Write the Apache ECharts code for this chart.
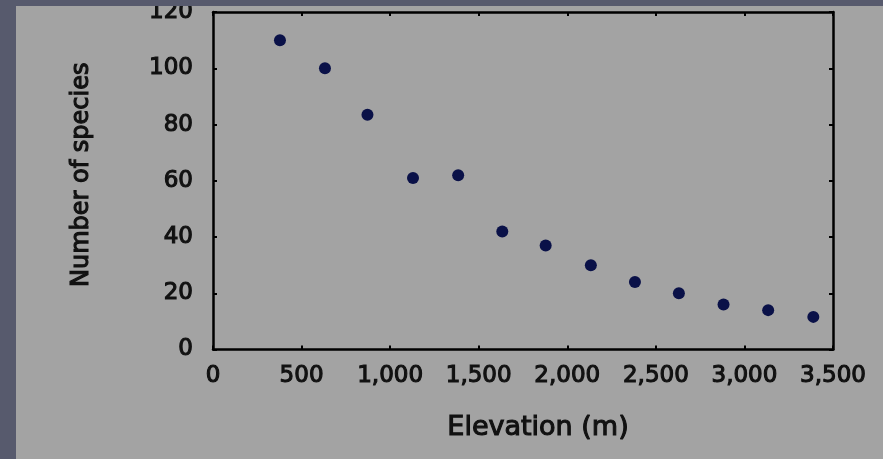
<!DOCTYPE html>
<html>
<head>
<meta charset="utf-8">
<script src="https://cdn.jsdelivr.net/npm/echarts@6/dist/echarts.min.js"></script>
<style>
html,body{margin:0;padding:0;background:#575a6d;}
#chart{width:883px;height:459px;}
</style>
</head>
<body>
<div id="chart"></div>
<script>
// Data
const elevation = [378, 632, 872, 1129, 1384, 1633, 1878, 2133, 2382, 2630, 2882, 3134, 3389];
const species   = [110, 100, 83.5, 61, 62, 42, 37, 30, 24, 20, 16, 14, 11.6];
const xTicks = [0, 500, 1000, 1500, 2000, 2500, 3000, 3500];
const yTicks = [0, 20, 40, 60, 80, 100, 120];
const xTitle = 'Elevation (m)';
const yTitle = 'Number of species';

const FONT = 'DejaVu Sans';
const TXT = '#111111';
const thick = { textBorderColor: TXT, textBorderWidth: 1.1 };

const chart = echarts.init(document.getElementById('chart'));
const points = elevation.map((e, i) => [e, species[i]]);

function baseAxis() {
  return {
    axisLine: { show: true, onZero: false, lineStyle: { color: '#000', width: 2.5 } },
    axisTick: { show: true, inside: true, length: 4, lineStyle: { color: '#000', width: 2 } },
    splitLine: { show: false }
  };
}

chart.setOption({
  backgroundColor: '#575a6d',
  animation: false,
  graphic: [
    { type: 'rect', z: -100, shape: { x: 16, y: 6, width: 900, height: 500 }, style: { fill: '#a3a3a3' } },
    { type: 'rect', z: 1000, shape: { x: 0, y: 0, width: 900, height: 6 }, style: { fill: '#575a6d' } }
  ],
  grid: { left: 213, right: 50, top: 10.5, bottom: 109.5 },
  xAxis: [
    Object.assign(baseAxis(), {
      type: 'value', min: xTicks[0], max: xTicks[xTicks.length - 1], interval: xTicks[1] - xTicks[0],
      position: 'bottom',
      name: xTitle, nameLocation: 'middle', nameGap: 65,
      nameTextStyle: Object.assign({ fontFamily: FONT, fontSize: 27, color: TXT, padding: [0, 0, 0, 30] }, thick),
      axisLabel: Object.assign({ margin: 15, fontFamily: FONT, fontSize: 23, color: TXT,
        formatter: v => v.toLocaleString('en-US') }, thick)
    }),
    Object.assign(baseAxis(), {
      type: 'value', min: xTicks[0], max: xTicks[xTicks.length - 1], interval: xTicks[1] - xTicks[0],
      position: 'top', axisLabel: { show: false }
    })
  ],
  yAxis: [
    Object.assign(baseAxis(), {
      type: 'value', min: yTicks[0], max: yTicks[yTicks.length - 1], interval: yTicks[1] - yTicks[0],
      position: 'left',
      name: yTitle, nameLocation: 'middle', nameGap: 119, nameRotate: 90,
      nameTextStyle: Object.assign({ fontFamily: FONT, fontSize: 24, color: TXT, padding: [0, 0, 0, 12] }, thick),
      axisLabel: Object.assign({ margin: 20, fontFamily: FONT, fontSize: 23, color: TXT, padding: [6, 0, 0, 0] }, thick)
    }),
    Object.assign(baseAxis(), {
      type: 'value', min: yTicks[0], max: yTicks[yTicks.length - 1], interval: yTicks[1] - yTicks[0],
      position: 'right', axisLabel: { show: false }
    })
  ],
  series: [{
    type: 'scatter',
    xAxisIndex: 0, yAxisIndex: 0,
    data: points,
    symbol: 'circle',
    symbolSize: 12,
    itemStyle: { color: '#0a1148', opacity: 1 }
  }]
});
</script>
</body>
</html>
